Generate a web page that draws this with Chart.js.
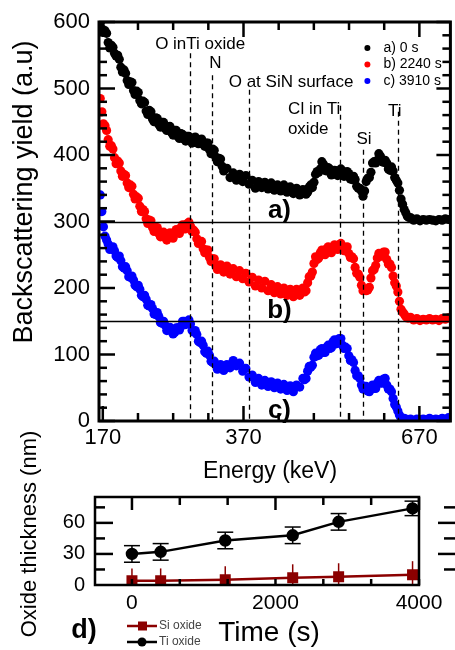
<!DOCTYPE html>
<html>
<head>
<meta charset="utf-8">
<script src="https://cdn.jsdelivr.net/npm/chart.js@4.4.0/dist/chart.umd.min.js"></script>
<style>
  html, body { margin: 0; padding: 0; background: #fff; }
  #wrap { position: relative; width: 455px; height: 650px; overflow: hidden; }
  canvas { position: absolute; left: 0; }
  #rbsChart { top: 0; }
  #oxideChart { top: 400px; }
</style>
</head>
<body>
<div id="wrap">
  <canvas id="rbsChart" width="455" height="490"></canvas>
  <canvas id="oxideChart" width="455" height="250"></canvas>
</div>
<script>
const FONT = "'Liberation Sans', Arial, sans-serif";
Chart.defaults.font.family = FONT;
Chart.defaults.color = '#000';

// RBS spectra, energy in keV, yield in a.u. (spectra shifted by 150 each)
const energy = [
  166, 171, 176, 181, 186, 191, 196, 201, 206, 211,
  216, 221, 226, 231, 236, 241, 246, 251, 256, 261,
  266, 271, 276, 281, 286, 291, 296, 301, 306, 311,
  316, 321, 326, 331, 336, 341, 346, 351, 356, 361,
  366, 371, 376, 381, 386, 391, 396, 401, 406, 411,
  416, 421, 426, 431, 436, 441, 446, 451, 456, 461,
  466, 471, 476, 481, 486, 491, 496, 501, 506, 511,
  516, 521, 526, 531, 536, 541, 546, 551, 556, 561,
  566, 571, 576, 581, 586, 591, 596, 601, 606, 611,
  616, 621, 626, 631, 636, 641, 646, 651, 656, 661,
  666, 671, 676, 681, 686, 691, 696, 701, 706, 711,
  716
];
const yield0s = [
  598, 585, 583, 561, 562, 549, 544, 525, 523, 506,
  509, 491, 494, 477, 479, 461, 465, 450, 455, 442,
  449, 437, 443, 430, 437, 425, 431, 421, 428, 418,
  427, 417, 424, 413, 418, 402, 407, 390, 394, 376,
  380, 366, 373, 362, 371, 360, 369, 356, 362, 350,
  360, 351, 359, 349, 358, 347, 355, 346, 355, 344,
  352, 342, 350, 340, 348, 341, 352, 351, 371, 374,
  390, 377, 381, 370, 377, 369, 379, 368, 375, 364,
  368, 353, 350, 338, 360, 366, 388, 388, 402, 390,
  392, 379, 382, 366, 358, 334, 318, 308, 306, 302,
  304, 301, 303, 302, 303, 302, 301, 303, 302, 304,
  303
];
const yield2240s = [
  485, 447, 437, 413, 409, 387, 388, 368, 369, 351,
  353, 334, 335, 315, 315, 297, 301, 285, 291, 277,
  284, 272, 283, 275, 288, 282, 295, 289, 299, 285,
  284, 267, 270, 253, 257, 240, 244, 228, 235, 224,
  233, 221, 229, 217, 226, 214, 222, 209, 216, 203,
  212, 200, 210, 196, 205, 193, 202, 191, 200, 189,
  198, 187, 198, 189, 200, 196, 217, 224, 247, 245,
  257, 250, 262, 253, 265, 258, 267, 256, 262, 246,
  244, 222, 216, 196, 196, 201, 226, 234, 252, 248,
  254, 236, 231, 208, 194, 168, 161, 155, 156, 152,
  154, 151, 153, 152, 154, 152, 153, 151, 154, 153,
  155
];
const yield3910s = [
  340, 292, 272, 258, 262, 248, 248, 232, 232, 217,
  218, 204, 204, 189, 189, 174, 175, 161, 163, 148,
  150, 136, 141, 131, 140, 137, 150, 145, 152, 136,
  136, 120, 120, 104, 105, 90, 90, 78, 85, 76,
  85, 80, 91, 83, 87, 75, 79, 66, 69, 58,
  64, 54, 61, 52, 59, 50, 57, 48, 55, 46,
  53, 44, 54, 51, 64, 64, 82, 84, 102, 99,
  109, 103, 114, 110, 122, 117, 124, 109, 109, 91,
  88, 68, 64, 48, 52, 44, 54, 49, 61, 57,
  64, 48, 44, 25, 15, 5, 4, 2, 3, 1,
  3, 2, 3, 2, 4, 2, 3, 2, 4, 3,
  5
];

// extra channels read on the steep parts of the spectra
const energyMid = [
  168.5, 173.5, 178.5, 183.5, 188.5, 193.5, 198.5, 203.5, 208.5, 213.5,
  218.5, 223.5, 228.5, 233.5, 238.5, 243.5, 248.5, 253.5, 258.5, 263.5,
  268.5, 273.5, 278.5, 283.5, 288.5, 293.5, 298.5, 303.5, 308.5, 313.5,
  318.5, 323.5, 328.5, 333.5, 338.5, 343.5, 348.5, 353.5, 358.5,
  488.5, 493.5, 498.5, 503.5, 508.5, 513.5, 518.5, 523.5, 528.5, 533.5,
  538.5, 543.5, 548.5, 553.5, 558.5, 563.5, 568.5, 573.5, 578.5, 583.5,
  588.5, 593.5, 598.5, 603.5, 608.5, 613.5, 618.5, 623.5, 628.5, 633.5,
  638.5, 643.5, 648.5, 653.5
];
const yield0sMid = [
  590, 587, 569, 565, 553, 550, 532, 528, 512, 510,
  497, 496, 482, 481, 466, 467, 454, 456, 446, 449,
  440, 442, 434, 437, 428, 432, 424, 428, 421, 425,
  419, 423, 416, 418, 408, 409, 397, 395, 383,
  347, 344, 355, 359, 375, 379, 386, 376, 379, 371,
  376, 371, 376, 369, 372, 363, 363, 350, 346, 346,
  365, 374, 390, 392, 398, 389, 388, 377, 376, 362,
  347, 326, 313, 306
];
const yield2240sMid = [
  465, 444, 423, 414, 396, 391, 376, 371, 358, 355,
  341, 337, 323, 318, 304, 302, 291, 291, 282, 283,
  276, 280, 277, 284, 283, 291, 289, 297, 293, 287,
  274, 270, 259, 257, 246, 244, 234, 233, 228,
  194, 208, 218, 237, 243, 253, 251, 259, 255, 262,
  259, 265, 259, 261, 252, 247, 231, 221, 204, 198,
  197, 215, 228, 245, 248, 254, 243, 236, 218, 203,
  180, 164, 157, 155
];
const yield3910sMid = [
  315, 278, 266, 259, 256, 246, 241, 230, 226, 216,
  212, 202, 198, 187, 183, 173, 169, 160, 157, 147,
  144, 137, 138, 133, 140, 142, 150, 147, 146, 134,
  130, 118, 114, 102, 99, 88, 85, 80, 82,
  62, 75, 81, 96, 98, 107, 103, 111, 109, 119,
  116, 124, 114, 111, 98, 92, 76, 68, 54, 52,
  45, 51, 49, 57, 57, 63, 54, 48, 34, 21,
  9, 4, 3, 2
];

const spectrumLabels = ['a) 0 s', 'b) 2240 s', 'c) 3910 s'];
const spectrumTags = ['a)', 'b)', 'c)'];
const spectrumBaselines = [300, 150, 0];
const spectrumColors = ['#000000', '#ff0000', '#0000ff'];

// energy axis: minor ticks every 500/9 keV from 170, labels sit on ticks 0, 4 and 9
const energyTickLabels = ['170', '370', '670'];
const energyTickSteps = [0, 4, 9];
const energyTickStart = 170;
const energyTickStep = 500 / 9;

// edges marked with dashed lines
const edgeLabels = [['O inTi oxide'], ['N'], ['O at SiN surface'], ['Cl in Ti', 'oxide'], ['Si'], ['Ti']];
const edgeEnergies = [308, 343, 401, 545, 581, 636];

// oxide thickness (nm) against time (s)
const time = [0, 400, 1300, 2240, 2880, 3910];
const siOxide = [4, 4, 5, 7, 8, 10];
const siOxideErr = [12, 12, 13, 13, 13, 13];
const tiOxide = [30, 32, 43, 48, 61, 74];
const tiOxideErr = [8, 8, 8, 8, 8, 7];
const timeTicks = [0, 2000, 4000];
const thicknessTicks = [0, 30, 60];

function line(ctx, x1, y1, x2, y2) {
  ctx.beginPath();
  ctx.moveTo(x1, y1);
  ctx.lineTo(x2, y2);
  ctx.stroke();
}

// ---------- top panel ----------
const edgeLayout = [
  { dx: 10, ys: [567], top: 553 },
  { dx: 3, ys: [538], top: 520 },
  { dx: 42, ys: [510], top: 498 },
  { dx: -26, ys: [469, 439], top: 474 },
  { dx: 1, ys: [423], top: 408 },
  { dx: -3, ys: [466], top: 465 }
];

const rbsDecor = {
  id: 'rbsDecor',
  afterDatasetsDraw(chart) {
    const { ctx, chartArea: a, scales: { x, y } } = chart;
    ctx.save();
    ctx.strokeStyle = '#000';
    ctx.fillStyle = '#000';

    // shifted zero lines
    ctx.lineWidth = 1.5;
    spectrumBaselines.filter(b => b > 0).forEach(b => {
      const py = Math.round(y.getPixelForValue(b)) + 0.5;
      line(ctx, a.left, py, a.right, py);
    });

    // dashed edge markers
    ctx.lineWidth = 1.3;
    ctx.setLineDash([5, 4]);
    edgeEnergies.forEach((e, i) => {
      const px = Math.round(x.getPixelForValue(e)) + 0.5;
      line(ctx, px, y.getPixelForValue(edgeLayout[i].top), px, a.bottom);
    });
    ctx.setLineDash([]);

    ctx.font = '17px ' + FONT;
    ctx.textAlign = 'center';
    ctx.textBaseline = 'middle';
    edgeLabels.forEach((lines, i) => {
      const px = x.getPixelForValue(edgeEnergies[i]) + edgeLayout[i].dx;
      lines.forEach((t, j) => {
        const dx = j === 1 ? -6 : 0;
        ctx.fillText(t, px + dx, y.getPixelForValue(edgeLayout[i].ys[j]));
      });
    });

    // a) b) c)
    ctx.font = 'bold 26px ' + FONT;
    spectrumTags.forEach((t, i) => {
      ctx.fillText(t, x.getPixelForValue(449), y.getPixelForValue(spectrumBaselines[i] + 16));
    });

    // legend
    ctx.font = '14px ' + FONT;
    ctx.textAlign = 'left';
    spectrumLabels.forEach((t, i) => {
      const py = 48 + i * 16.5;
      ctx.fillStyle = spectrumColors[i];
      ctx.beginPath();
      ctx.arc(a.right - 83, py, 3, 0, Math.PI * 2);
      ctx.fill();
      ctx.fillStyle = '#000';
      ctx.fillText(t, a.right - 67, py);
    });

    // frame
    ctx.lineWidth = 3;
    ctx.strokeRect(a.left, a.top, a.right - a.left, a.bottom - a.top);

    // inward ticks
    ctx.lineWidth = 2.5;
    for (let k = 0; k <= 9; k++) {
      const px = x.getPixelForValue(energyTickStart + k * energyTickStep);
      const len = energyTickSteps.includes(k) ? 15 : 8;
      line(ctx, px, a.top, px, a.top + len);
      line(ctx, px, a.bottom, px, a.bottom - len);
    }
    for (let v = 0; v <= 600; v += 20) {
      const py = y.getPixelForValue(v);
      const major = v % 100 === 0;
      line(ctx, a.left, py, a.left + (major ? 16 : 8), py);
      line(ctx, a.right, py, a.right - (major ? 14 : 8), py);
    }

    // axis titles
    ctx.textAlign = 'center';
    ctx.textBaseline = 'alphabetic';
    ctx.font = '23px ' + FONT;
    ctx.fillText('Energy (keV)', 270, 478);
    ctx.translate(32, 192);
    ctx.rotate(-Math.PI / 2);
    ctx.font = '27px ' + FONT;
    ctx.fillText('Backscattering yield (a.u)', 0, 0);
    ctx.restore();
  }
};

const spectra = [yield0s, yield2240s, yield3910s];
const spectraMid = [yield0sMid, yield2240sMid, yield3910sMid];

new Chart(document.getElementById('rbsChart'), {
  type: 'scatter',
  data: {
    datasets: spectra.map((vals, i) => ({
      label: spectrumLabels[i],
      data: energy.map((e, j) => ({ x: e, y: vals[j] }))
        .concat(energyMid.map((e, j) => ({ x: e, y: spectraMid[i][j] }))),
      backgroundColor: spectrumColors[i],
      borderWidth: 0,
      pointRadius: 4.6,
      pointHoverRadius: 4.6
    }))
  },
  options: {
    responsive: false,
    animation: false,
    layout: { padding: { top: 22, right: 2, left: 0, bottom: 0 } },
    plugins: { legend: { display: false }, tooltip: { enabled: false } },
    scales: {
      x: {
        type: 'linear', min: 164, max: 719,
        grid: { display: false, drawTicks: false },
        border: { display: false },
        afterFit: s => { s.height = 69; },
        afterBuildTicks: s => {
          s.ticks = energyTickSteps.map(k => ({ value: energyTickStart + k * energyTickStep }));
        },
        ticks: {
          autoSkip: false, maxRotation: 0, padding: 6,
          font: { size: 22, lineHeight: 1 },
          callback: (v, i) => energyTickLabels[i]
        }
      },
      y: {
        min: 0, max: 600,
        grid: { display: false, drawTicks: false },
        border: { display: false },
        afterFit: s => { s.width = 99; },
        ticks: { stepSize: 100, padding: 9, font: { size: 22, lineHeight: 1 } }
      }
    }
  },
  plugins: [rbsDecor]
});

// ---------- bottom panel ----------
const errorBars = {
  id: 'errorBars',
  beforeDatasetsDraw(chart) {
    const { ctx, chartArea: a, scales: { y } } = chart;
    ctx.save();
    ctx.beginPath();
    ctx.rect(a.left, a.top, a.right - a.left, a.bottom - a.top);
    ctx.clip();
    chart.data.datasets.forEach((ds, i) => {
      const meta = chart.getDatasetMeta(i);
      ctx.strokeStyle = ds.borderColor;
      ctx.lineWidth = 1.5;
      meta.data.forEach((pt, j) => {
        const v = ds.data[j].y;
        const top = y.getPixelForValue(v + ds.errors[j]);
        const bot = y.getPixelForValue(v - ds.errors[j]);
        line(ctx, pt.x, top, pt.x, bot);
        if (ds.caps) {
          line(ctx, pt.x - 8, top, pt.x + 8, top);
          line(ctx, pt.x - 8, bot, pt.x + 8, bot);
        }
      });
    });
    ctx.restore();
  }
};

const oxideDecor = {
  id: 'oxideDecor',
  afterDatasetsDraw(chart) {
    const { ctx, chartArea: a, scales: { x, y } } = chart;
    ctx.save();
    ctx.strokeStyle = '#000';
    ctx.fillStyle = '#000';
    ctx.lineWidth = 2.5;
    ctx.strokeRect(a.left, a.top, a.right - a.left, a.bottom - a.top);

    for (let k = 0; k <= 6; k++) {
      const px = x.getPixelForValue(k * 2000 / 3);
      const len = k % 3 === 0 ? 13 : 8;
      line(ctx, px, a.top, px, a.top + len);
      line(ctx, px, a.bottom, px, a.bottom - 6);
    }
    for (let v = 15; v <= 75; v += 15) {
      const py = y.getPixelForValue(v);
      const major = v % 30 === 0;
      line(ctx, a.left, py, a.left + (major ? 18 : 10), py);
      line(ctx, chart.width, py, chart.width - (major ? 17 : 11), py);
    }

    // legend
    ctx.lineWidth = 2.5;
    ctx.font = '12px ' + FONT;
    ctx.textAlign = 'left';
    ctx.textBaseline = 'middle';
    chart.data.datasets.forEach((ds, i) => {
      const py = 226 + i * 16;
      ctx.strokeStyle = ds.borderColor;
      ctx.fillStyle = ds.borderColor;
      line(ctx, 127, py, 157, py);
      if (ds.pointStyle === 'rect') {
        ctx.fillRect(138, py - 4.5, 9, 9);
      } else {
        ctx.beginPath();
        ctx.arc(142, py, 4.5, 0, Math.PI * 2);
        ctx.fill();
      }
      ctx.fillStyle = '#444';
      ctx.fillText(ds.label, 159, py);
    });

    ctx.fillStyle = '#000';
    ctx.textAlign = 'center';
    ctx.textBaseline = 'alphabetic';
    ctx.font = 'bold 27px ' + FONT;
    ctx.fillText('d)', 84, 238);
    ctx.font = '28px ' + FONT;
    ctx.fillText('Time (s)', 269, 241);
    ctx.translate(36, 134);
    ctx.rotate(-Math.PI / 2);
    ctx.font = '22px ' + FONT;
    ctx.fillText('Oxide thickness (nm)', 0, 0);
    ctx.restore();
  }
};

new Chart(document.getElementById('oxideChart'), {
  type: 'line',
  data: {
    datasets: [
      {
        label: 'Si oxide',
        data: time.map((t, i) => ({ x: t, y: siOxide[i] })),
        errors: siOxideErr, caps: false,
        borderColor: '#8b0000', backgroundColor: '#8b0000',
        pointStyle: 'rect', pointRadius: 6, borderWidth: 2.5
      },
      {
        label: 'Ti oxide',
        data: time.map((t, i) => ({ x: t, y: tiOxide[i] })),
        errors: tiOxideErr, caps: true,
        borderColor: '#000000', backgroundColor: '#000000',
        pointStyle: 'circle', pointRadius: 5, borderWidth: 2.5
      }
    ]
  },
  options: {
    responsive: false,
    animation: false,
    layout: { padding: { top: 97, right: 36, left: 0, bottom: 0 } },
    plugins: { legend: { display: false }, tooltip: { enabled: false } },
    scales: {
      x: {
        type: 'linear', min: -515, max: 4000,
        grid: { display: false, drawTicks: false },
        border: { display: false },
        afterFit: s => { s.height = 65; },
        afterBuildTicks: s => { s.ticks = timeTicks.map(v => ({ value: v })); },
        ticks: {
          autoSkip: false, maxRotation: 0, padding: 8,
          font: { size: 21, lineHeight: 1 },
          callback: v => String(v)
        }
      },
      y: {
        min: 0, max: 85,
        grid: { display: false, drawTicks: false },
        border: { display: false },
        afterFit: s => { s.width = 95; },
        afterBuildTicks: s => { s.ticks = thicknessTicks.map(v => ({ value: v })); },
        ticks: { padding: 10, font: { size: 20, lineHeight: 1 }, callback: v => String(v) }
      }
    }
  },
  plugins: [errorBars, oxideDecor]
});
</script>
</body>
</html>
